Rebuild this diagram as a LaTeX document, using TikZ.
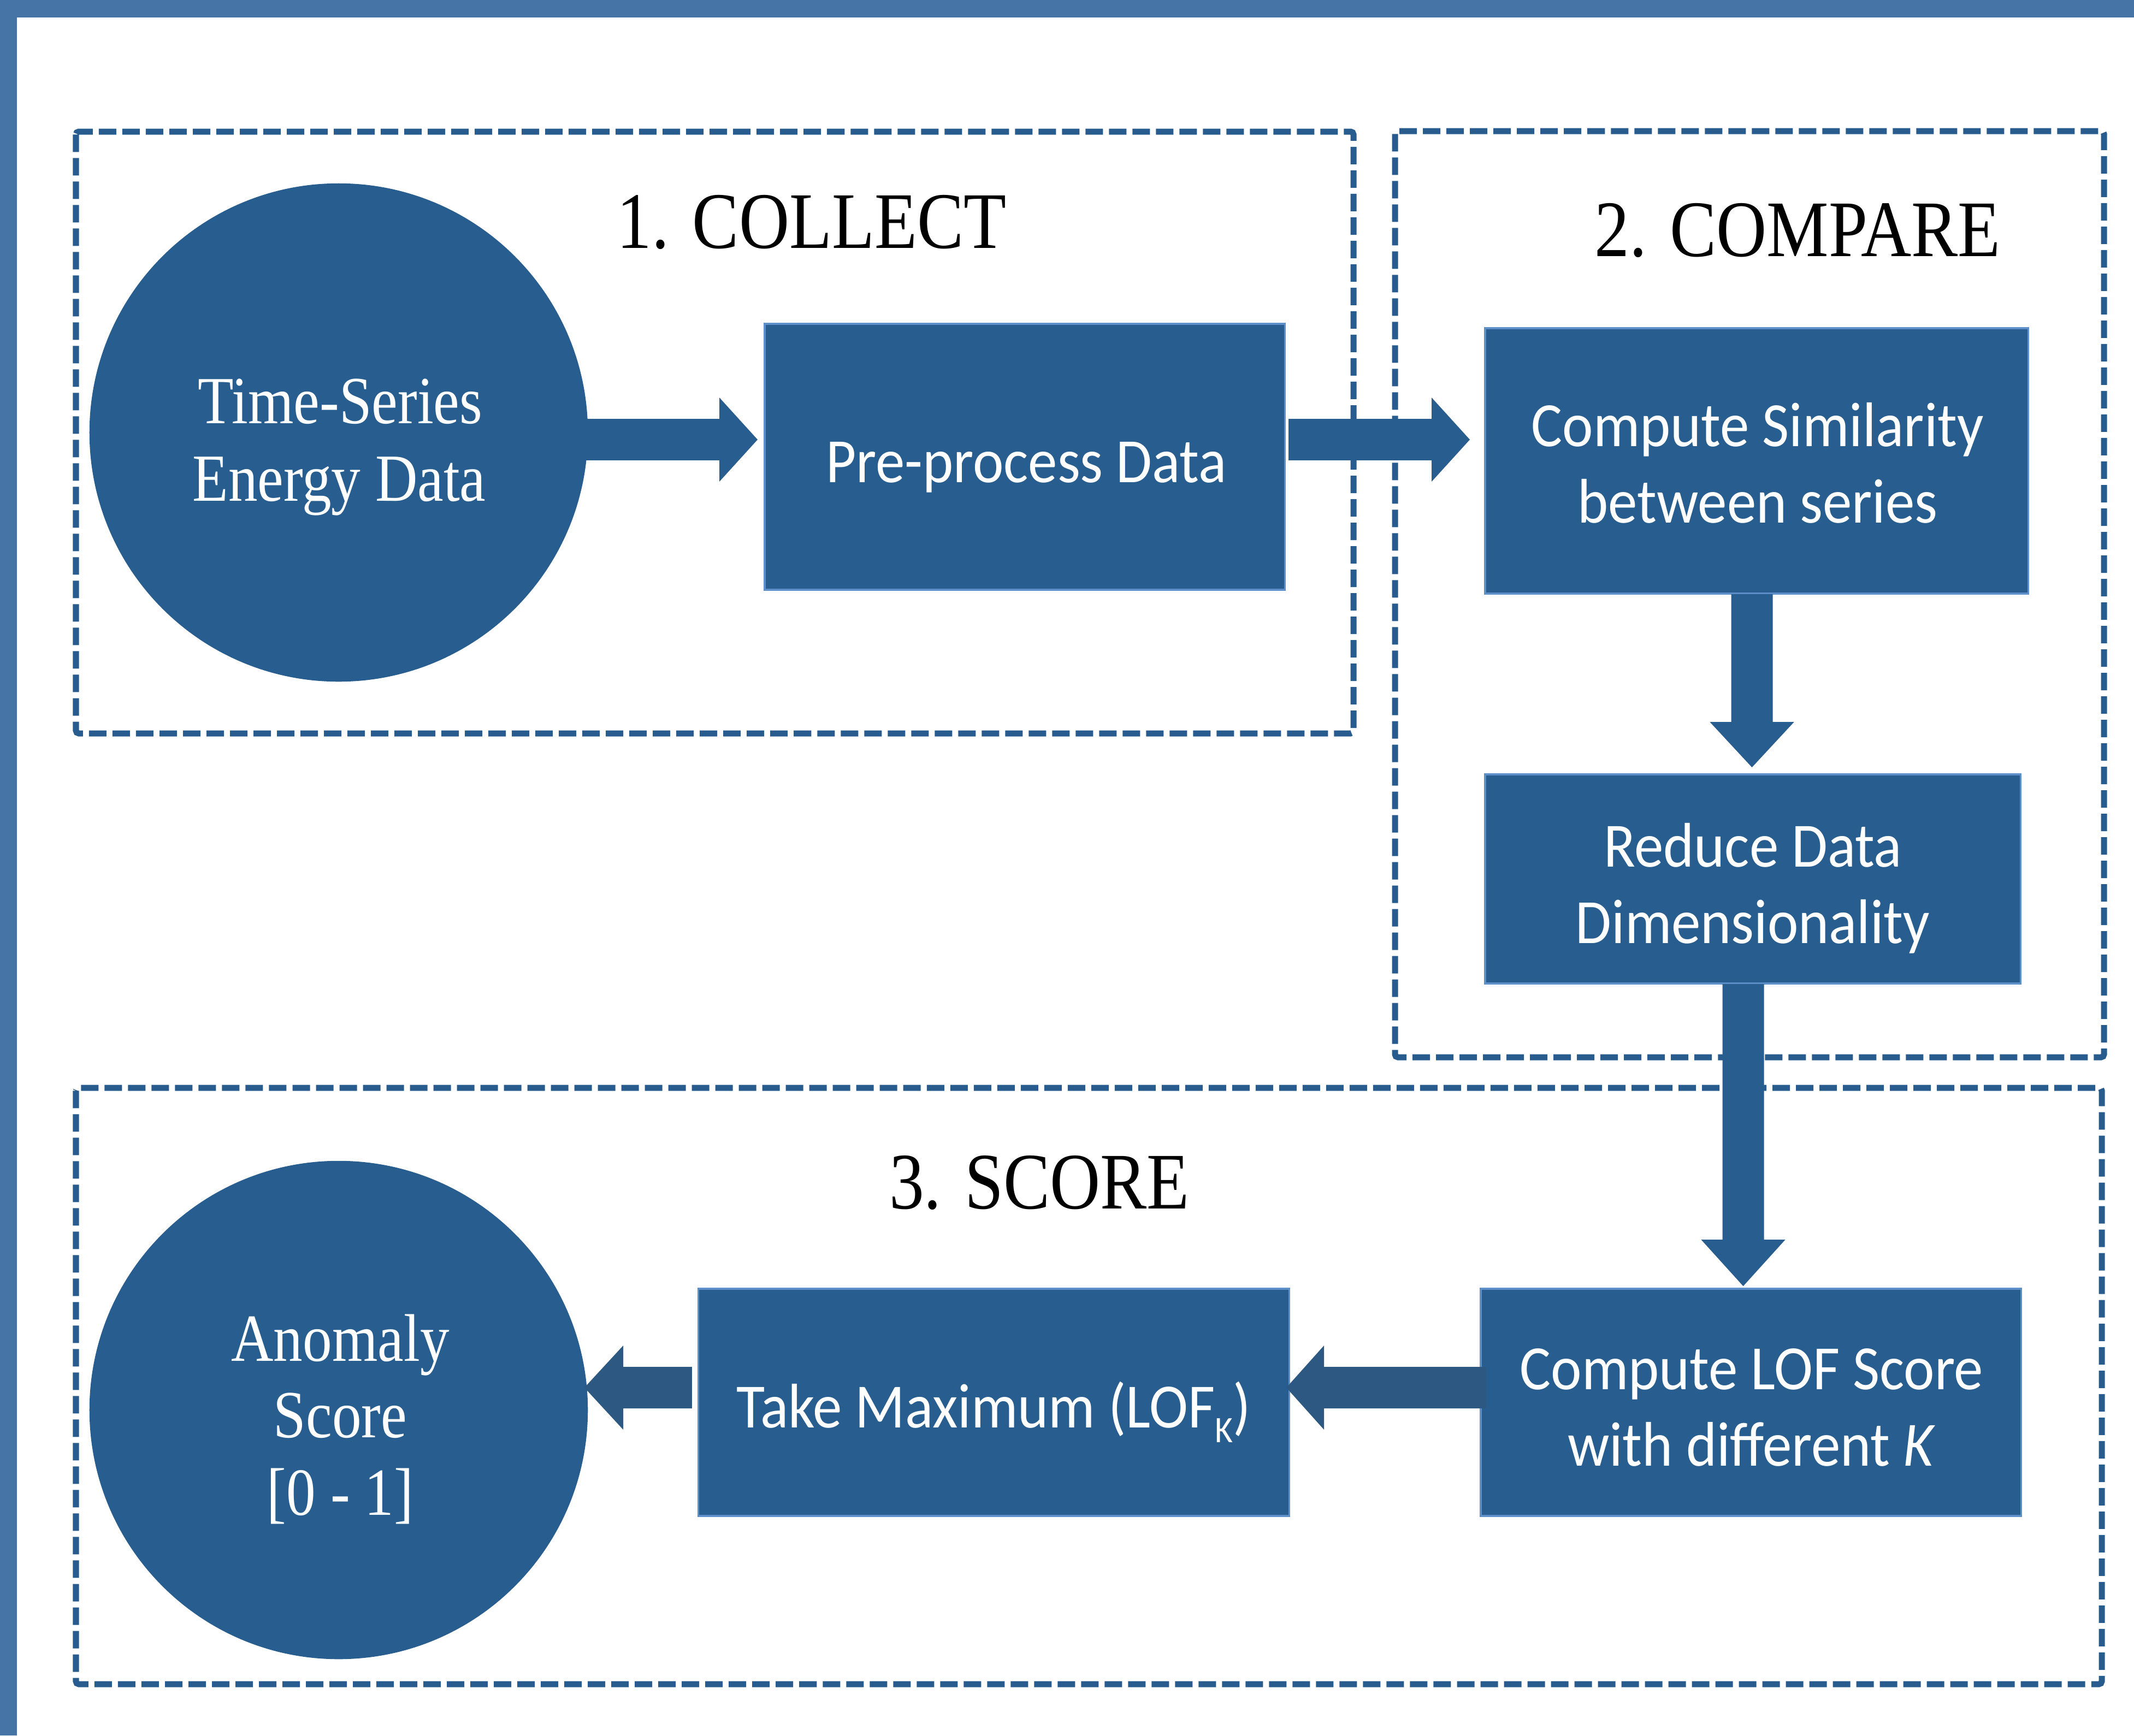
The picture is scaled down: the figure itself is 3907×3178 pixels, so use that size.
\documentclass[tikz,border=0pt]{standalone}
\usepackage{fontspec}
\usepackage{graphicx}
\setmainfont{Liberation Serif}
\newfontfamily\calfont{Carlito}
\usetikzlibrary{calc}

\definecolor{framec}{HTML}{4674A6}
\definecolor{boxfill}{HTML}{285E8F}
\definecolor{boxedge}{HTML}{5F8FC9}
\definecolor{backarrow}{HTML}{2D5882}
\definecolor{groupline}{HTML}{285C8E}

% slightly taller lettering
\newcommand\tallserif[1]{\scalebox{1}[1.15]{#1}}
\newcommand\tallsans[1]{\scalebox{1}[1.08]{#1}}
% low subscript as in the LOF label
\newcommand\lowsub[1]{\raisebox{-0.5ex}{\fontsize{18}{18}\selectfont #1}}

% block arrow: style, start point, tip point, head length
\newcommand\blockarrow[4]{%
  \coordinate (hb) at ($(#3)!#4!(#2)$);
  \fill[#1] ($(#2)!10.8pt!90:(#3)$) -- ($(hb)!10.8pt!90:(#3)$)
    -- ($(hb)!21.9pt!90:(#3)$) -- (#3) -- ($(hb)!21.9pt!-90:(#3)$)
    -- ($(hb)!10.8pt!-90:(#3)$) -- ($(#2)!10.8pt!-90:(#3)$) -- cycle;}

\tikzset{
  group/.style={draw=groupline, line width=3.13pt, dash pattern=on 9.1pt off 3.13pt, rounded corners=1.5pt},
  blk/.style={rectangle, fill=boxfill, draw=boxedge, line width=1pt, inner sep=0pt},
  disc/.style={circle, fill=boxfill, inner sep=0pt, minimum size=9.12cm},
  serifw/.style={text=white, inner sep=0pt, anchor=base, font=\fontsize{30.5}{40}\selectfont},
  sansw/.style={text=white, inner sep=0pt, anchor=base, font=\calfont\fontsize{30.4}{40}\selectfont},
  title/.style={text=black, inner sep=0pt, anchor=base, font=\fontsize{36.3}{43}\selectfont},
  fwd/.style={fill=boxfill},
  back/.style={fill=backarrow},
}

\begin{document}
\begin{tikzpicture}[x=0.01cm, y=-0.01cm]
\useasboundingbox (0,0) rectangle (3907,3178);

% page frame
\fill[framec] (0,0) rectangle (3907,32);
\fill[framec] (0,0) rectangle (31,3178);

% stage groups
\draw[group] (139,241) rectangle (2478,1343);
\draw[group] (2554,240) rectangle (3852,1936);
\draw[group] (139,1992) rectangle (3848,3084);

\node[title] (t1) at (1486,454) {\tallserif{1. COLLECT}};
\node[title] (t2) at (3291,469) {\tallserif{2. COMPARE}};
\node[title] (t3) at (1903,2213) {\tallserif{3. SCORE}};

% process shapes
\node[disc] (ts) at (620,792) {};
\node[blk, minimum width=9.52cm, minimum height=4.87cm] (pre) at (1876,836.5) {};
\node[blk, minimum width=9.94cm, minimum height=4.86cm] (sim) at (3216,844) {};
\node[blk, minimum width=9.80cm, minimum height=3.83cm] (red) at (3209,1609.5) {};
\node[blk, minimum width=9.89cm, minimum height=4.16cm] (lof) at (3205.5,2568) {};
\node[blk, minimum width=10.81cm, minimum height=4.16cm] (max) at (1819.5,2568) {};
\node[disc] (an) at (620,2582) {};

% labels
\node[serifw] (ts1) at (623,775) {\tallserif{Time-Series}};
\node[serifw] (ts2) at (621,917) {\tallserif{Energy Data}};
\node[sansw] (pre1) at (1879,883) {\tallsans{Pre-process Data}};
\node[sansw] (sim1) at (3218,817) {\tallsans{Compute Similarity}};
\node[sansw] (sim2) at (3218,957) {\tallsans{between series}};
\node[sansw] (red1) at (3209,1587) {\tallsans{Reduce Data}};
\node[sansw] (red2) at (3209,1727) {\tallsans{Dimensionality}};
\node[sansw] (lof1) at (3207,2544) {\tallsans{Compute LOF Score}};
\node[sansw] (lof2) at (3207,2684) {\tallsans{with different \textit{K}}};
\node[sansw] (max1) at (1819,2614) {\tallsans{Take Maximum (LOF\lowsub{K})}};
\node[serifw] (an1) at (623,2492) {\tallserif{Anomaly}};
\node[serifw] (an2) at (623,2632) {\tallserif{Score}};
\node[serifw] (an3) at (623,2774) {\tallserif{[0 - 1]}};

% connectors
\coordinate (a1s) at ($(ts.east)+(-30,13)$);
\coordinate (a1t) at ($(pre.west)+(-11,-31.5)$);
\blockarrow{fwd}{a1s}{a1t}{19.9pt}

\coordinate (a2s) at ($(pre.east)+(5,-31.5)$);
\coordinate (a2t) at ($(sim.west)+(-26,-39)$);
\blockarrow{fwd}{a2s}{a2t}{19.9pt}

\coordinate (a3s) at ($(sim.south)+(-8.5,-1)$);
\coordinate (a3t) at ($(red.north)+(-1.5,-11)$);
\blockarrow{fwd}{a3s}{a3t}{23.6pt}

\coordinate (a4s) at ($(red.south)+(-17.5,-1)$);
\coordinate (a4t) at ($(lof.north)+(-14,-3)$);
\blockarrow{fwd}{a4s}{a4t}{24.2pt}

\coordinate (a5s) at ($(lof.west)+(12,-27)$);
\coordinate (a5t) at ($(max.east)+(-7,-27)$);
\blockarrow{back}{a5s}{a5t}{19.6pt}

\coordinate (a6s) at ($(max.west)+(-10,-27)$);
\coordinate (a6t) at ($(an.east)+(-7,-41)$);
\blockarrow{back}{a6s}{a6t}{20.2pt}
\end{tikzpicture}
\end{document}
